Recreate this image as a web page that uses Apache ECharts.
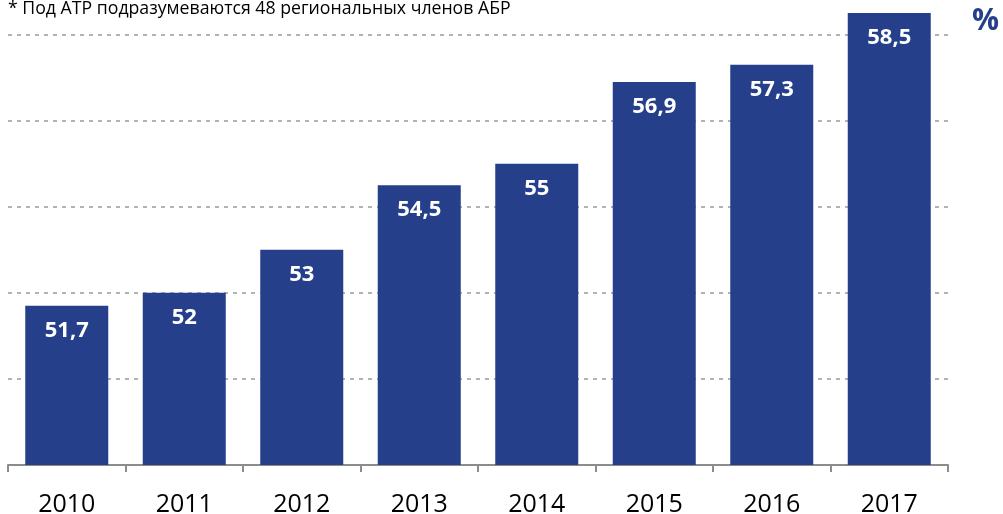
<!DOCTYPE html>
<html>
<head>
<meta charset="utf-8">
<script src="https://cdn.jsdelivr.net/npm/echarts@6/dist/echarts.min.js"></script>
<style type="text/css">
html, body {margin: 0; padding: 0; background: #fff;}
#chart {width: 1003px; height: 514px;}
</style>
</head>
<body>
<div id="chart"></div>
<script>
// данные
var years = ['2010', '2011', '2012', '2013', '2014', '2015', '2016', '2017'];
var values = [51.7, 52, 53, 54.5, 55, 56.9, 57.3, 58.5];
var note = '* Под АТР подразумеваются 48 региональных членов АБР';

var blue = '#253f8a';

var chart = echarts.init(document.getElementById('chart'));
chart.setOption({
    animation: false,
    title: [{
        text: note,
        left: 8, top: 0, padding: 0,
        textStyle: {fontFamily: 'Open Sans', fontSize: 17.7, fontWeight: 'normal', color: '#000'}
    }, {
        text: '%',
        left: 972, top: 6, padding: 0,
        textStyle: {fontFamily: 'Open Sans', fontSize: 30, fontWeight: 'bold', color: blue}
    }],
    grid: {left: 8, right: 55, top: 13, bottom: 49, outerBoundsMode: 'none'},
    xAxis: {
        type: 'category',
        data: years,
        axisLine: {lineStyle: {color: '#8c8c8c', width: 2}},
        axisTick: {show: true, length: 7, lineStyle: {color: '#8c8c8c', width: 2}},
        axisLabel: {fontFamily: 'Open Sans', fontSize: 25, color: '#000', margin: 27}
    },
    yAxis: {
        type: 'value',
        min: 48, max: 58.5, interval: 2,
        axisLabel: {show: false},
        axisLine: {show: false},
        axisTick: {show: false},
        splitLine: {
            show: true, showMinLine: false, showMaxLine: false,
            lineStyle: {color: '#b3b3b3', width: 2, type: [4, 5]}
        }
    },
    series: [{
        type: 'bar',
        data: values,
        barWidth: 83,
        itemStyle: {color: blue},
        label: {
            show: true,
            position: 'insideTop',
            distance: 14,
            color: '#fff',
            fontFamily: 'Open Sans',
            fontWeight: 'bold',
            fontSize: 22,
            formatter: function (p) { return String(p.value).replace('.', ','); }
        }
    }]
});
</script>
</body>
</html>
